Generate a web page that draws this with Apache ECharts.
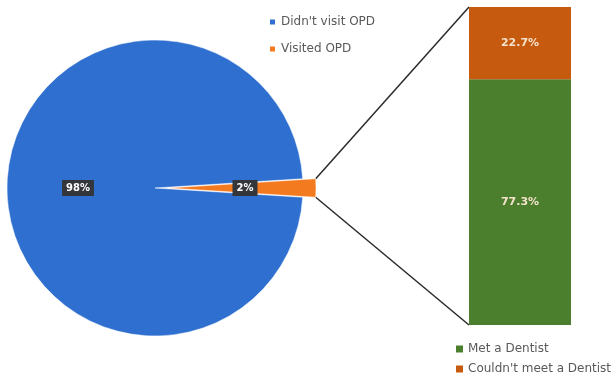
<!DOCTYPE html>
<html style="height: 100%">
<head>
<meta charset="utf-8">
</head>
<body style="height: 100%; margin: 0">
<div id="container" style="width: 614px; height: 387px"></div>
<script type="text/javascript" src="https://cdn.jsdelivr.net/npm/echarts@6/dist/echarts.min.js"></script>
<script type="text/javascript">
var pieNames = ["Didn't visit OPD", 'Visited OPD'];
var pieValues = [98, 2];
var pieColors = ['#2e6fcf', '#f47a20'];

var barNames = ['Met a Dentist', "Couldn't meet a Dentist"];
var barValues = [77.3, 22.7];
var barColors = ['#4b7f2d', '#c65a0f'];

var pieCenter = [155, 188];
var pieRadius = 148;
var explode = 13;
var halfSlice = pieValues[1] / 100 * 180;

var dom = document.getElementById('container');
var myChart = echarts.init(dom);

var legendText = { fontSize: 12, color: '#595959', fontFamily: '"DejaVu Sans", sans-serif' };

var option = {
    animation: false,
    backgroundColor: '#fff',
    legend: [{
        data: pieNames,
        orient: 'vertical',
        left: 268,
        top: 16,
        padding: 0,
        itemWidth: 7,
        itemHeight: 7,
        itemGap: 15,
        icon: 'rect',
        selectedMode: false,
        textStyle: legendText
    }, {
        data: barNames,
        orient: 'vertical',
        left: 456,
        top: 343,
        padding: 0,
        itemWidth: 7,
        itemHeight: 7,
        itemGap: 8,
        icon: 'rect',
        selectedMode: false,
        textStyle: legendText
    }],
    grid: { left: 469, top: 7, width: 102, height: 318 },
    xAxis: { type: 'category', data: [''], show: false },
    yAxis: { type: 'value', min: 0, max: 100, show: false },
    series: [{
        type: 'pie',
        center: pieCenter,
        radius: pieRadius,
        startAngle: 360 - halfSlice,
        clockwise: true,
        selectedMode: 'single',
        selectedOffset: explode,
        itemStyle: { borderColor: '#fff', borderWidth: 0.5 },
        label: {
            show: true,
            position: 'inside',
            color: '#fff',
            fontSize: 10,
            fontWeight: 'bold',
            fontFamily: '"DejaVu Sans", sans-serif',
            backgroundColor: '#33363b',
            padding: [3, 4]
        },
        labelLine: { show: false },
        emphasis: { disabled: true },
        data: pieNames.map(function (n, i) {
            return {
                name: n,
                value: pieValues[i],
                selected: i === 1,
                itemStyle: { color: pieColors[i] },
                label: { formatter: pieValues[i] + '%' }
            };
        })
    }].concat(barNames.map(function (n, i) {
        return {
            type: 'bar',
            name: n,
            stack: 'opd',
            barWidth: '100%',
            data: [barValues[i]],
            itemStyle: { color: barColors[i] },
            label: {
                show: true,
                position: 'inside',
                formatter: barValues[i].toFixed(1) + '%',
                color: '#f4e3cc',
                fontSize: 11,
                fontWeight: 'bold',
                fontFamily: '"DejaVu Sans", sans-serif'
            },
            emphasis: { disabled: true }
        };
    }))
};
myChart.setOption(option, true);

// connector lines from exploded slice to the stacked bar
var rad = halfSlice * Math.PI / 180;
var cx = pieCenter[0] + explode;
var ox = cx + pieRadius * Math.cos(rad);
var oyTop = pieCenter[1] - pieRadius * Math.sin(rad);
var oyBot = pieCenter[1] + pieRadius * Math.sin(rad);
var barTop = myChart.convertToPixel({ gridIndex: 0 }, [0, 100]);
var barBot = myChart.convertToPixel({ gridIndex: 0 }, [0, 0]);
var barLeft = 469;
myChart.setOption({
    graphic: [{
        type: 'line',
        shape: { x1: ox, y1: oyTop, x2: barLeft, y2: barTop[1] },
        style: { stroke: '#2b2b2b', lineWidth: 1.5 }
    }, {
        type: 'line',
        shape: { x1: ox, y1: oyBot, x2: barLeft, y2: barBot[1] },
        style: { stroke: '#2b2b2b', lineWidth: 1.5 }
    }]
});
</script>
</body>
</html>
